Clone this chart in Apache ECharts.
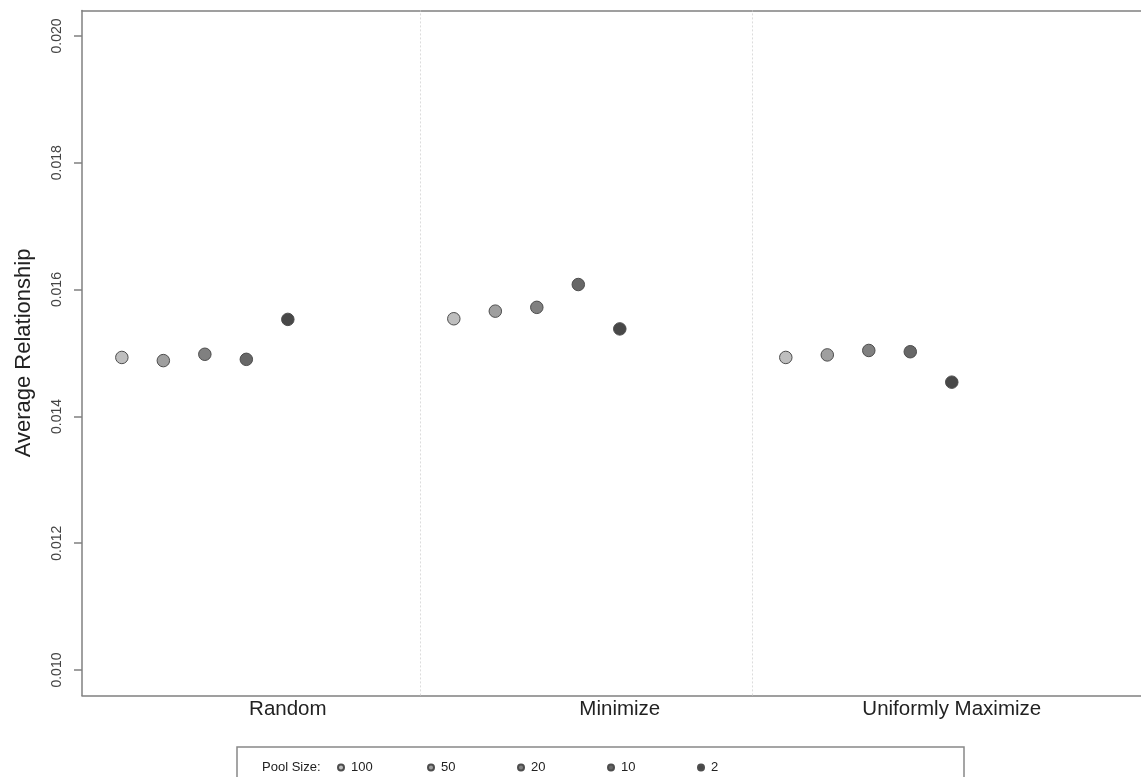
<!DOCTYPE html>
<html>
<head>
<meta charset="utf-8">
<script src="https://cdn.jsdelivr.net/npm/echarts@6/dist/echarts.min.js"></script>
<style>
html,body{margin:0;padding:0;background:#fff;}
#chart{width:1141px;height:777px;}
</style>
</head>
<body>
<div id="chart"></div>
<script>
// ---- data ----
var categories = ['Random', 'Minimize', 'Uniformly Maximize'];
var poolSizes = ['100', '50', '20', '10', '2'];
var pool100 = [0.01493, 0.01554, 0.01493];
var pool50  = [0.01488, 0.01566, 0.01497];
var pool20  = [0.01498, 0.01572, 0.01504];
var pool10  = [0.01490, 0.01608, 0.01502];
var pool2   = [0.01553, 0.01538, 0.01454];
var yTicks = [0.010, 0.012, 0.014, 0.016, 0.018, 0.020];
var dividers = [7.2, 15.2];

var poolValues = [pool100, pool50, pool20, pool10, pool2];
var colors = ['#bebebe', '#9f9f9f', '#808080', '#676767', '#484848'];
var groupStep = 8;
var labelPos = categories.map(function (c, g) { return g * groupStep + 4; });
var FONT = 'Liberation Sans, Arial, sans-serif';

var series = poolSizes.map(function (p, j) {
  var s = {
    name: p,
    type: 'scatter',
    symbol: 'circle',
    symbolSize: 12.5,
    itemStyle: { color: colors[j], borderColor: '#4d4d4d', borderWidth: 1, opacity: 1 },
    data: poolValues[j].map(function (v, g) { return [g * groupStep + j, v]; }),
    z: 3
  };
  if (j === 0) {
    s.markLine = {
      silent: true,
      symbol: ['none', 'none'],
      label: { show: false },
      lineStyle: { color: '#dcdcdc', type: [2, 2], width: 1 },
      data: dividers.map(function (d) { return { xAxis: d }; })
    };
  }
  return s;
});

var legends = poolSizes.map(function (p, j) {
  return {
    left: 337 + 90 * j, top: 761,
    padding: 0,
    itemWidth: 6, itemHeight: 6,
    itemGap: 0,
    icon: 'circle',
    data: [p],
    textStyle: { fontSize: 13, color: '#222', fontFamily: FONT, padding: [0, 0, 0, 2] }
  };
});

var lineStyle = { color: '#808080', width: 1.5 };
var chart = echarts.init(document.getElementById('chart'));
chart.setOption({
  animation: false,
  backgroundColor: '#ffffff',
  textStyle: { fontFamily: FONT },
  grid: { left: 82, top: 10.6, right: 0, bottom: 81.6, containLabel: false },
  title: {
    text: 'Pool Size:',
    left: 262, top: 761,
    padding: 0,
    textStyle: { fontSize: 13, fontWeight: 'normal', color: '#222', fontFamily: FONT }
  },
  graphic: [{
    type: 'rect',
    shape: { x: 237, y: 747, width: 727, height: 60 },
    style: { fill: 'none', stroke: '#888', lineWidth: 1.5 },
    silent: true
  }],
  legend: legends,
  xAxis: [{
    type: 'value',
    min: -0.96, max: 24.56,
    splitLine: { show: false },
    axisLine: { show: true, onZero: false, lineStyle: lineStyle },
    axisTick: { show: false },
    axisLabel: {
      customValues: labelPos,
      formatter: function (v) {
        var i = labelPos.indexOf(v);
        return i >= 0 ? categories[i] : '';
      },
      fontSize: 20.5, color: '#222', margin: 3
    }
  }, {
    type: 'value', position: 'top', min: -0.96, max: 24.56,
    axisLine: { show: true, onZero: false, lineStyle: lineStyle },
    axisTick: { show: false }, axisLabel: { show: false }, splitLine: { show: false }
  }],
  yAxis: {
    type: 'value',
    min: 0.0096, max: 0.0204,
    name: 'Average Relationship',
    nameLocation: 'middle',
    nameGap: 47,
    nameTextStyle: { fontSize: 22, color: '#222' },
    splitLine: { show: false },
    axisLine: { show: true, onZero: false, lineStyle: lineStyle },
    axisTick: { show: true, length: 8, customValues: yTicks, lineStyle: lineStyle },
    axisLabel: {
      customValues: yTicks,
      rotate: 90,
      margin: 18,
      fontSize: 14,
      color: '#444',
      formatter: function (v) { return v.toFixed(3); }
    }
  },
  series: series
});
</script>
</body>
</html>
